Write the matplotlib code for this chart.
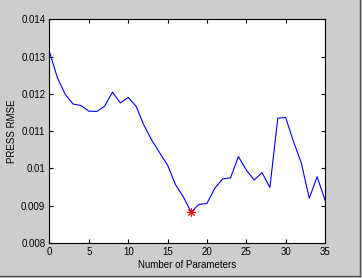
import numpy as np
import matplotlib
matplotlib.use("Agg")
import matplotlib.pyplot as plt
from matplotlib.lines import Line2D

# PRESS RMSE vs number of parameters
n_params = list(range(36))
press_rmse = [0.01313, 0.01244, 0.01199, 0.01173, 0.01169, 0.01154, 0.01153, 0.01167,
              0.01205, 0.01176, 0.01191, 0.01167, 0.01116, 0.01076, 0.01042, 0.01009,
              0.00957, 0.00924, 0.00883, 0.00904, 0.00906, 0.00947, 0.00972, 0.00975,
              0.01032, 0.00996, 0.00969, 0.00989, 0.00949, 0.01135, 0.01137, 0.01072,
              0.01014, 0.00920, 0.00978, 0.00915]
best_n = 18
best_rmse = 0.00883

xticks = [0, 5, 10, 15, 20, 25, 30, 35]
yticks = [0.008, 0.009, 0.010, 0.011, 0.012, 0.013, 0.014]
ytick_labels = ['0.008', '0.009', '0.01', '0.011', '0.012', '0.013', '0.014']

plt.rcParams['font.family'] = ['Liberation Sans', 'DejaVu Sans']
plt.rcParams['font.size'] = 7

bg = '#cdcdcd'
fig = plt.figure(figsize=(3.62, 2.78), dpi=100, facecolor=bg)
ax = fig.add_axes([0.1367, 0.1259, 0.8978 - 0.1367, 0.9299 - 0.1259])

ax.plot(n_params, press_rmse, color='#0000ff', lw=0.8)
# MATLAB-style asterisk marker (plus + cross)
ax.plot([best_n], [best_rmse], marker=(8, 2, 0), color='red', ms=6, ls='none',
        markeredgewidth=0.7)

ax.set_xlim(0, 35)
ax.set_ylim(0.008, 0.014)
ax.set_xticks(xticks)
ax.set_yticks(yticks)
ax.set_yticklabels(ytick_labels)
ax.tick_params(direction='in', length=3, width=0.8, top=True, right=True,
               labelsize=7, pad=3, colors='black')
for s in ax.spines.values():
    s.set_linewidth(0.8)
ax.set_xlabel('Number of Parameters', fontsize=7, labelpad=2)
ax.set_ylabel('PRESS RMSE', fontsize=7, labelpad=3)

# window frame edge on right and bottom
fig.add_artist(Line2D([0.994, 0.994], [0.006, 1.0], color='#505050', lw=1.0))
fig.add_artist(Line2D([0.0, 0.994], [0.006, 0.006], color='#505050', lw=1.0))

fig.savefig('out.png', dpi=100, facecolor=bg)
